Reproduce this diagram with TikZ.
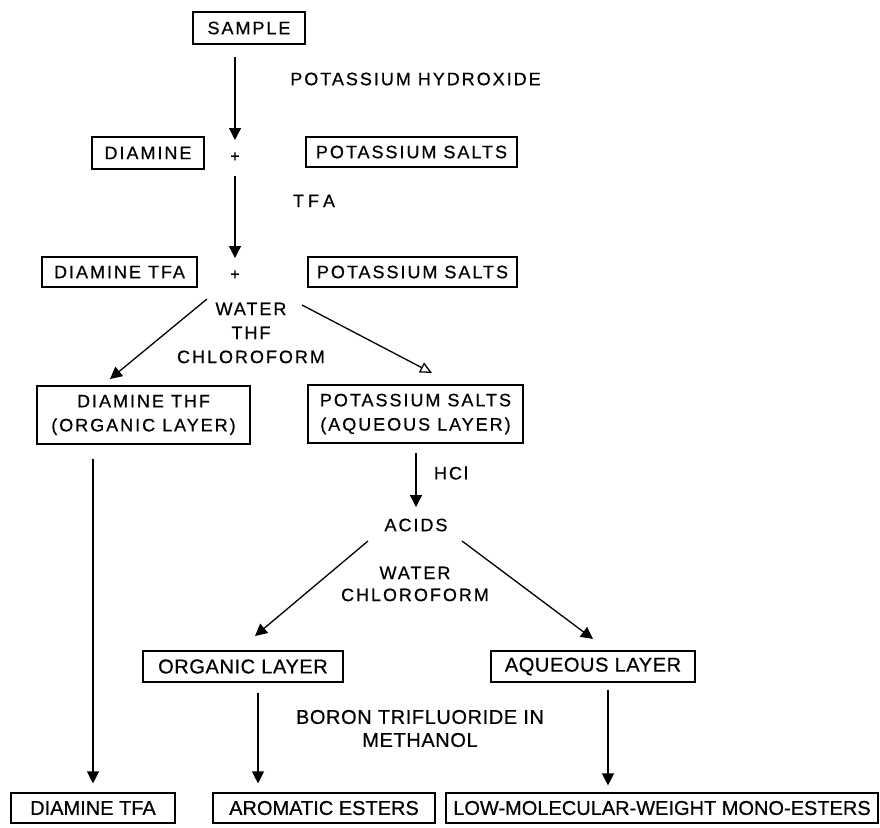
\documentclass[tikz,border=0pt]{standalone}
\usepackage{fontspec}
\setmainfont[FakeBold=0.6]{Liberation Sans}
\newfontfamily\fA[LetterSpace=11,FakeBold=0.6]{Liberation Sans}
\newfontfamily\fB[LetterSpace=3,FakeBold=0.6]{Liberation Sans}
\newfontfamily\fC[FakeBold=0.6]{Liberation Sans}
\usetikzlibrary{arrows.meta}
\begin{document}
\begin{tikzpicture}[x=1pt,y=-1pt,
  box/.style={draw,line width=1.2pt,inner sep=0pt,align=center},
  ta/.style={font=\fA\fontsize{18}{24}\selectfont},
  tb/.style={font=\fB\fontsize{20}{23}\selectfont},
  tc/.style={font=\fC\fontsize{20}{23}\selectfont},
  lbl/.style={inner sep=0pt,align=center},
  arr/.style={line width=1.3pt,-{Triangle[length=12pt,width=12pt]}},
  arro/.style={line width=1.3pt,-{Triangle[open,length=12pt,width=11pt]}}
]
\fill[white] (0,0) rectangle (880,827);
\useasboundingbox (0,0) rectangle (880,827);

% boxes
\node[box,ta,minimum width=112pt,minimum height=32pt] (sample) at (249,28) {SAMPLE};
\node[box,ta,minimum width=112pt,minimum height=32pt] (diamine) at (148,153) {DIAMINE};
\node[box,ta,minimum width=211pt,minimum height=30pt] (ksalts1) at (411.5,152) {POTASSIUM SALTS};
\node[box,ta,minimum width=155pt,minimum height=30pt] (diaminetfa) at (119.5,272) {DIAMINE TFA};
\node[box,ta,minimum width=209pt,minimum height=30pt] (ksalts2) at (412.5,272) {POTASSIUM SALTS};
\node[box,ta,minimum width=213pt,minimum height=58pt] (diaminethf) at (143.5,415) {\raisebox{-2pt}{\shortstack{DIAMINE THF\\[8pt](ORGANIC LAYER)}}};
\node[box,ta,minimum width=215pt,minimum height=58pt] (ksaltsaq) at (415.5,414) {\raisebox{-2pt}{\shortstack{POTASSIUM SALTS\\[8pt](AQUEOUS LAYER)}}};
\node[box,tb,minimum width=200pt,minimum height=31pt] (organic) at (243,666.5) {ORGANIC LAYER};
\node[box,tb,minimum width=204pt,minimum height=31pt] (aqueous) at (593,666.5) {AQUEOUS LAYER};
\node[box,tc,minimum width=164pt,minimum height=30pt] (dtfa2) at (93,808) {DIAMINE TFA};
\node[box,tc,minimum width=222pt,minimum height=30pt] (arom) at (324,808) {AROMATIC ESTERS};
\node[box,tc,minimum width=432pt,minimum height=30pt] (lowmol) at (662,808) {LOW-MOLECULAR-WEIGHT MONO-ESTERS};

% plus signs and labels
\node[lbl,font=\fC\fontsize{16}{16}\selectfont] (plus1) at (235,157) {+};
\node[lbl,font=\fC\fontsize{16}{16}\selectfont] (plus2) at (235,275) {+};
\node[lbl,ta] (koh) at (415.5,79) {POTASSIUM HYDROXIDE};
\node[lbl,ta] (tfa) at (314,201) {T\hspace{4pt}F\hspace{4pt}A};
\node[lbl,ta] (solv1) at (251,333) {WATER\\THF\\CHLOROFORM};
\node[lbl,ta] (hcl) at (451,473) {HCl};
\node[lbl,ta] (acids) at (416,525) {ACIDS};
\node[lbl,ta,font=\fA\fontsize{18}{22}\selectfont] (solv2) at (415,584) {WATER\\CHLOROFORM};
\node[lbl,tb] (bf3) at (420,728.5) {BORON TRIFLUORIDE IN\\METHANOL};

% free ends of the diagonal connectors
\coordinate (l1s) at (207,299);
\coordinate (l1e) at (110,379);
\coordinate (r1s) at (302,305);
\coordinate (r1e) at (432,373);
\coordinate (l2s) at (368,541);
\coordinate (l2e) at (255,636);
\coordinate (r2s) at (462,541);
\coordinate (r2e) at (593,639);

% connectors
\draw[arr,shorten <=12pt,shorten >=17pt] (sample.south -| plus1.center) -- (plus1.center);
\draw[arr,shorten <=19pt,shorten >=17pt] (plus1.center) -- (plus2.center);
\draw[arr] (l1s) -- (l1e);
\draw[arro] (r1s) -- (r1e);
\draw[arr,shorten <=9pt,shorten >=18pt] (ksaltsaq.south -| acids.center) -- (acids.center);
\draw[arr] (l2s) -- (l2e);
\draw[arr] (r2s) -- (r2e);
\draw[arr,shorten <=14pt,shorten >=9pt] (diaminethf.south -| dtfa2.north) -- (dtfa2.north);
\draw[arr,shorten <=10pt,shorten >=9pt] ([xshift=15pt]organic.south) -- ([xshift=15pt]organic.south |- arom.north);
\draw[arr,shorten <=7pt,shorten >=7pt] ([xshift=15pt]aqueous.south) -- ([xshift=15pt]aqueous.south |- lowmol.north);
\end{tikzpicture}
\end{document}
